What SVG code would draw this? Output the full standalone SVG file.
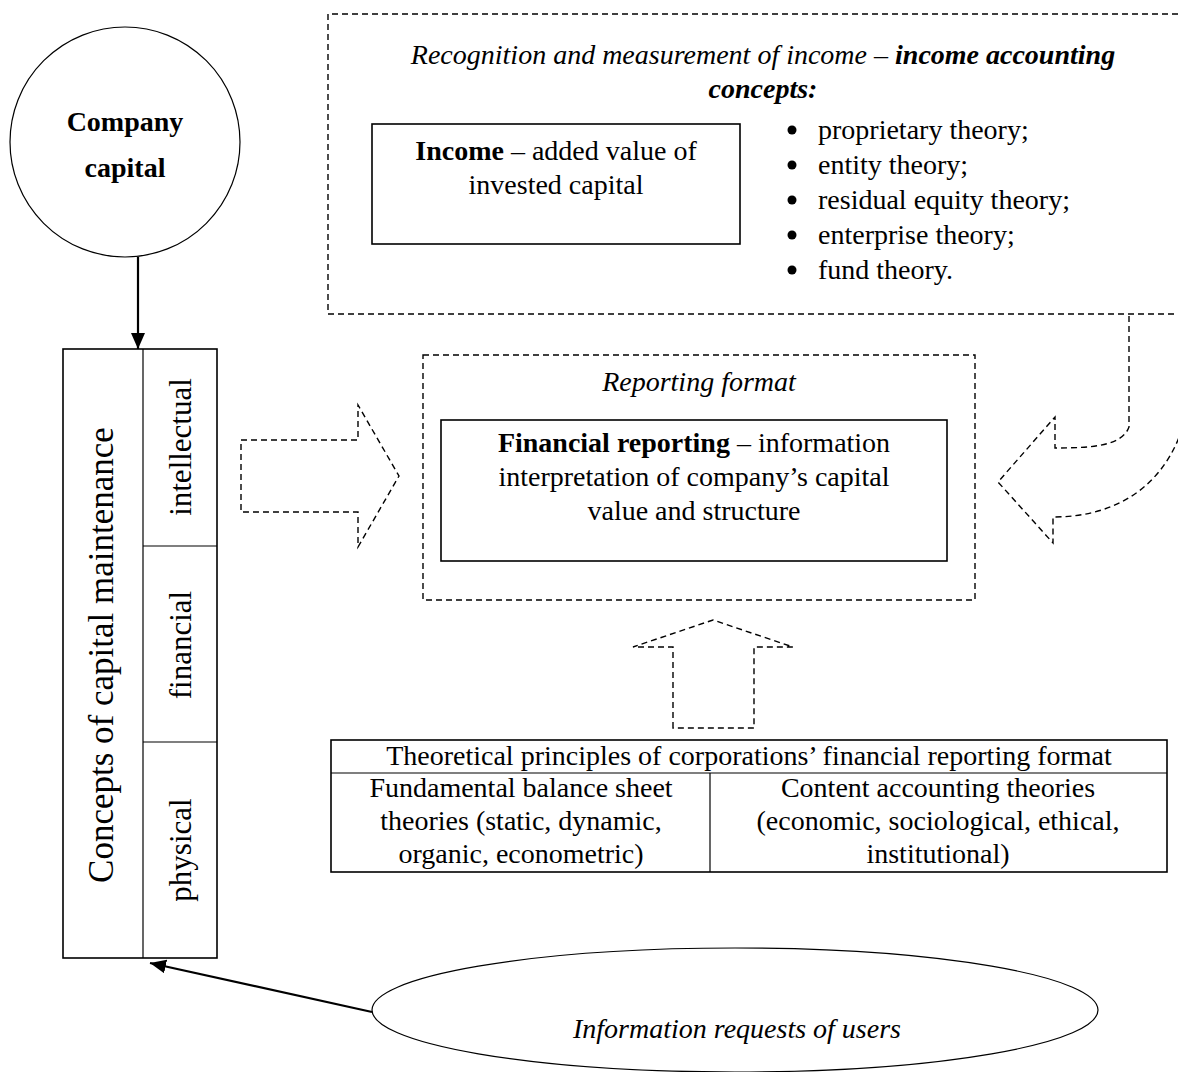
<svg xmlns="http://www.w3.org/2000/svg" width="1178" height="1072" viewBox="0 0 1178 1072">
<style>
.t{font-family:"Liberation Serif","Times New Roman",serif;font-size:28px;fill:#000}
.v{font-size:31px}
.vl{font-size:35px}
.c{text-anchor:middle}
.b{font-weight:bold}
.i{font-style:italic}
.box{fill:#fff;stroke:#000;stroke-width:1.6}
.thin{fill:none;stroke:#000;stroke-width:1.2}
.dash{fill:none;stroke:#000;stroke-width:1.4;stroke-dasharray:6 4}
.conn{fill:none;stroke:#000;stroke-width:2.2}
</style>
<defs>
<marker id="ah" markerWidth="16" markerHeight="14" refX="16" refY="7" orient="auto" markerUnits="userSpaceOnUse">
<path d="M0,0 L16,7 L0,14 z" fill="#000"/>
</marker>
</defs>
<rect width="1178" height="1072" fill="#fff"/>

<g id="income-concepts">
<path class="dash" d="M1178,14 H328 V314 H1178"/>
<text class="t c i" x="763" y="64">Recognition and measurement of income – <tspan class="b">income accounting</tspan></text>
<text class="t c i b" x="763" y="98">concepts:</text>
</g>

<g id="income-box">
<rect class="box" x="372" y="124" width="368" height="120"/>
<text class="t c" x="556" y="160"><tspan class="b">Income</tspan> – added value of</text>
<text class="t c" x="556" y="194">invested capital</text>
</g>

<g id="theories-list">
<circle cx="792" cy="130" r="4.5"/>
<circle cx="792" cy="165" r="4.5"/>
<circle cx="792" cy="200" r="4.5"/>
<circle cx="792" cy="235" r="4.5"/>
<circle cx="792" cy="270" r="4.5"/>
<text class="t" x="818" y="139">proprietary theory;</text>
<text class="t" x="818" y="174">entity theory;</text>
<text class="t" x="818" y="209">residual equity theory;</text>
<text class="t" x="818" y="244">enterprise theory;</text>
<text class="t" x="818" y="279">fund theory.</text>
</g>

<g id="company-capital">
<circle cx="125" cy="142" r="115" class="thin" stroke-width="1.6"/>
<text class="t c b" x="125" y="131">Company</text>
<text class="t c b" x="125" y="177">capital</text>
</g>

<g id="capital-maintenance">
<rect class="box" x="63" y="349" width="154" height="609"/>
<line class="thin" x1="143" y1="349" x2="143" y2="958" stroke-width="1.6"/>
<line class="thin" x1="143" y1="546" x2="217" y2="546" stroke-width="1.6"/>
<line class="thin" x1="143" y1="742" x2="217" y2="742"/>
<text class="t c vl" transform="translate(113,655) rotate(-90)">Concepts of capital maintenance</text>
<text class="t c v" transform="translate(191,447) rotate(-90)">intellectual</text>
<text class="t c v" transform="translate(191,645) rotate(-90)">financial</text>
<text class="t c v" transform="translate(191,850) rotate(-90)">physical</text>
</g>

<g id="reporting-format">
<rect class="dash" x="423" y="355" width="552" height="245"/>
<text class="t c i" x="699" y="391">Reporting format</text>
</g>

<g id="financial-reporting">
<rect class="box" x="441" y="420" width="506" height="141"/>
<text class="t c" x="694" y="452"><tspan class="b">Financial reporting</tspan> – information</text>
<text class="t c" x="694" y="486">interpretation of company’s capital</text>
<text class="t c" x="694" y="520">value and structure</text>
</g>

<g id="theoretical-principles">
<rect class="box" x="331" y="740" width="836" height="132"/>
<line class="thin" x1="331" y1="773" x2="1167" y2="773" stroke-width="1.6"/>
<line class="thin" x1="710" y1="773" x2="710" y2="872" stroke-width="1.6"/>
<text class="t c" x="749" y="765">Theoretical principles of corporations’ financial reporting format</text>
<text class="t c" x="521" y="797">Fundamental balance sheet</text>
<text class="t c" x="521" y="830">theories (static, dynamic,</text>
<text class="t c" x="521" y="863">organic, econometric)</text>
<text class="t c" x="938" y="797">Content accounting theories</text>
<text class="t c" x="938" y="830">(economic, sociological, ethical,</text>
<text class="t c" x="938" y="863">institutional)</text>
</g>

<g id="information-requests">
<ellipse class="thin" cx="735" cy="1010" rx="363" ry="62" stroke-width="1.6"/>
<text class="t c i" x="737" y="1038">Information requests of users</text>
</g>

<g id="connectors">
<line class="conn" x1="138" y1="257" x2="138" y2="349" marker-end="url(#ah)"/>
<line class="conn" x1="372" y1="1012" x2="150" y2="963" marker-end="url(#ah)"/>
<path class="dash" d="M241,440 H358 V405 L399,476 L358,547 V512 H241 Z"/>
<path class="dash" d="M673,728 V647 H633 L713,620 L793,647 H754 V728 Z"/>
<path class="dash" d="M1129,316 V427 C1122,446 1092,448 1055,448 V417 L998,482 L1053,543 V517 C1110,517 1158,492 1180,435"/>
</g>
</svg>
